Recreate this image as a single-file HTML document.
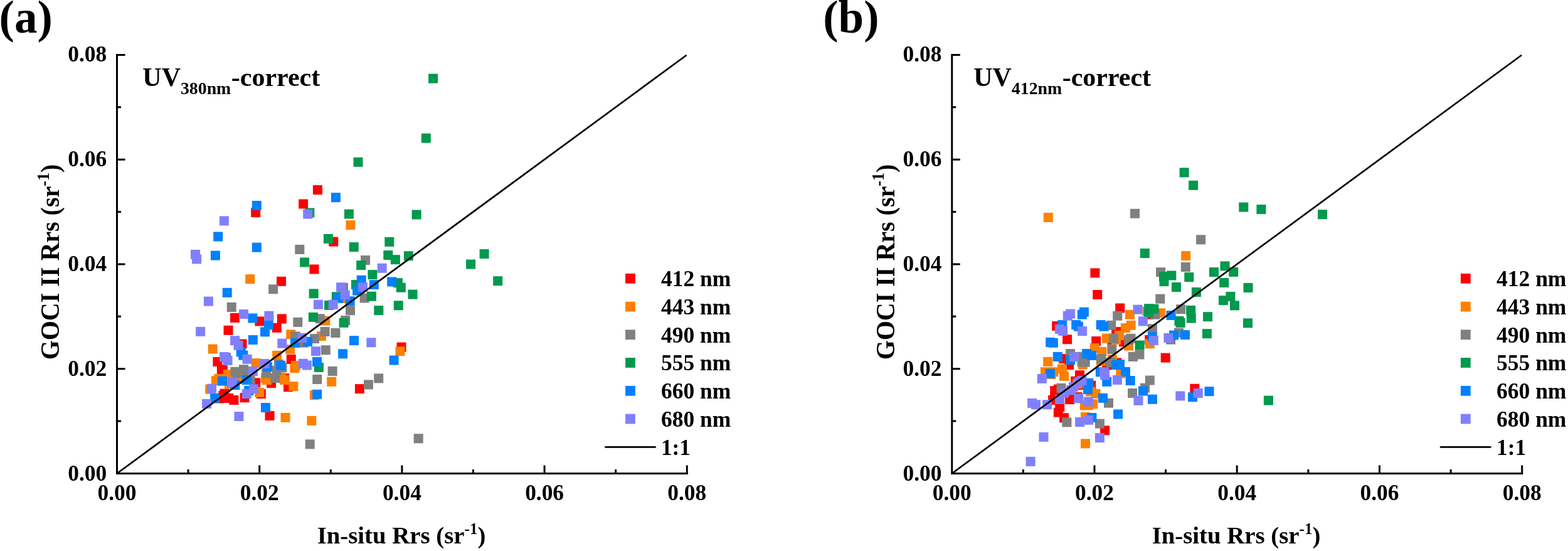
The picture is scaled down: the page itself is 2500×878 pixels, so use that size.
<!DOCTYPE html>
<html lang="en">
<head>
<meta charset="utf-8">
<title>GOCI II Rrs vs In-situ Rrs</title>
<style>
html,body{margin:0;padding:0;background:#fff;}
body{width:2500px;height:878px;overflow:hidden;}
svg{display:block;}
text{font-family:"Liberation Serif", "DejaVu Serif", serif;font-weight:bold;fill:#000;}
.t{font-size:35.4px;}
.ax{stroke:#000;stroke-width:3;fill:none;stroke-linecap:square;}
.tk{stroke:#000;stroke-width:3;fill:none;stroke-linecap:butt;}
.ln{stroke:#000;stroke-width:2.7;fill:none;stroke-linecap:round;}
</style>
</head>
<body>
<svg width="2500" height="878" viewBox="0 0 2500 878">
<rect x="0" y="0" width="2500" height="878" fill="#ffffff"/>

<g>
<g fill="#ff0000">
<rect x="400.2" y="331.2" width="15" height="15"/>
<rect x="476.1" y="317.5" width="15" height="15"/>
<rect x="498.9" y="295.1" width="15" height="15"/>
<rect x="524.2" y="377.6" width="15" height="15"/>
<rect x="493.5" y="421.5" width="15" height="15"/>
<rect x="441" y="440.8" width="15" height="15"/>
<rect x="367" y="498.9" width="15" height="15"/>
<rect x="406.4" y="504.5" width="15" height="15"/>
<rect x="441.8" y="500.5" width="15" height="15"/>
<rect x="433.8" y="514.8" width="15" height="15"/>
<rect x="356.5" y="518.8" width="15" height="15"/>
<rect x="378.5" y="540.5" width="15" height="15"/>
<rect x="339.4" y="569" width="15" height="15"/>
<rect x="345.9" y="581.2" width="15" height="15"/>
<rect x="348" y="582.6" width="15" height="15"/>
<rect x="456.8" y="564.9" width="15" height="15"/>
<rect x="400.2" y="602.4" width="15" height="15"/>
<rect x="365.4" y="630" width="15" height="15"/>
<rect x="357.3" y="627" width="15" height="15"/>
<rect x="350.4" y="619.6" width="15" height="15"/>
<rect x="348.3" y="623" width="15" height="15"/>
<rect x="342.5" y="627.5" width="15" height="15"/>
<rect x="382.6" y="626.2" width="15" height="15"/>
<rect x="425.1" y="603.1" width="15" height="15"/>
<rect x="408.8" y="620.1" width="15" height="15"/>
<rect x="446.3" y="595.2" width="15" height="15"/>
<rect x="452" y="609.3" width="15" height="15"/>
<rect x="422.5" y="655" width="15" height="15"/>
<rect x="632.5" y="545.6" width="15" height="15"/>
<rect x="565.9" y="612.1" width="15" height="15"/>
</g>
<g fill="#ff8000">
<rect x="551.4" y="351.1" width="15" height="15"/>
<rect x="391.2" y="437.2" width="15" height="15"/>
<rect x="456.3" y="525.4" width="15" height="15"/>
<rect x="541.4" y="467.9" width="15" height="15"/>
<rect x="511.3" y="503.7" width="15" height="15"/>
<rect x="504.9" y="528.1" width="15" height="15"/>
<rect x="331.7" y="548.6" width="15" height="15"/>
<rect x="355.7" y="589.1" width="15" height="15"/>
<rect x="341.1" y="596" width="15" height="15"/>
<rect x="336.8" y="599.2" width="15" height="15"/>
<rect x="400.6" y="571.1" width="15" height="15"/>
<rect x="455.2" y="549.2" width="15" height="15"/>
<rect x="434.1" y="558.9" width="15" height="15"/>
<rect x="464" y="575" width="15" height="15"/>
<rect x="462.3" y="579" width="15" height="15"/>
<rect x="357.9" y="604.8" width="15" height="15"/>
<rect x="327.2" y="612.6" width="15" height="15"/>
<rect x="371.9" y="596.9" width="15" height="15"/>
<rect x="406.2" y="617.9" width="15" height="15"/>
<rect x="418.1" y="598.1" width="15" height="15"/>
<rect x="415.9" y="595.1" width="15" height="15"/>
<rect x="440.3" y="593.8" width="15" height="15"/>
<rect x="445.9" y="598" width="15" height="15"/>
<rect x="460.4" y="608.1" width="15" height="15"/>
<rect x="493.9" y="622" width="15" height="15"/>
<rect x="447.5" y="657.9" width="15" height="15"/>
<rect x="489.4" y="662.9" width="15" height="15"/>
<rect x="630.5" y="552.2" width="15" height="15"/>
<rect x="521.2" y="600.8" width="15" height="15"/>
</g>
<g fill="#808080">
<rect x="470.3" y="390" width="15" height="15"/>
<rect x="575.1" y="407.1" width="15" height="15"/>
<rect x="428.1" y="453.3" width="15" height="15"/>
<rect x="361.7" y="482" width="15" height="15"/>
<rect x="467.3" y="505.9" width="15" height="15"/>
<rect x="463.5" y="528.4" width="15" height="15"/>
<rect x="540" y="451" width="15" height="15"/>
<rect x="573.6" y="467.5" width="15" height="15"/>
<rect x="551" y="487.2" width="15" height="15"/>
<rect x="502.8" y="500.3" width="15" height="15"/>
<rect x="543.2" y="503" width="15" height="15"/>
<rect x="510.6" y="521" width="15" height="15"/>
<rect x="527.4" y="523" width="15" height="15"/>
<rect x="494" y="532.1" width="15" height="15"/>
<rect x="353" y="562.1" width="15" height="15"/>
<rect x="381" y="581.2" width="15" height="15"/>
<rect x="367.4" y="584.8" width="15" height="15"/>
<rect x="370.1" y="586.9" width="15" height="15"/>
<rect x="381.2" y="583.9" width="15" height="15"/>
<rect x="476.9" y="538.7" width="15" height="15"/>
<rect x="511.8" y="550.3" width="15" height="15"/>
<rect x="436.8" y="572.9" width="15" height="15"/>
<rect x="442.5" y="578.3" width="15" height="15"/>
<rect x="417.2" y="587.4" width="15" height="15"/>
<rect x="498.2" y="597" width="15" height="15"/>
<rect x="433.6" y="583.1" width="15" height="15"/>
<rect x="391.7" y="596.9" width="15" height="15"/>
<rect x="431.4" y="595.1" width="15" height="15"/>
<rect x="522.6" y="583.9" width="15" height="15"/>
<rect x="596.2" y="595.4" width="15" height="15"/>
<rect x="579.9" y="605.4" width="15" height="15"/>
<rect x="486.7" y="700.4" width="15" height="15"/>
<rect x="659.7" y="691.3" width="15" height="15"/>
</g>
<g fill="#00994d">
<rect x="683.1" y="117.6" width="15" height="15"/>
<rect x="671.8" y="212.7" width="15" height="15"/>
<rect x="563.5" y="250.8" width="15" height="15"/>
<rect x="486.3" y="331.5" width="15" height="15"/>
<rect x="548.9" y="333.6" width="15" height="15"/>
<rect x="656.6" y="334.5" width="15" height="15"/>
<rect x="515.9" y="373" width="15" height="15"/>
<rect x="556.7" y="386.1" width="15" height="15"/>
<rect x="613.3" y="377.9" width="15" height="15"/>
<rect x="611.3" y="399.1" width="15" height="15"/>
<rect x="622.9" y="406.2" width="15" height="15"/>
<rect x="643.8" y="400.3" width="15" height="15"/>
<rect x="568.2" y="415.2" width="15" height="15"/>
<rect x="478.1" y="410.5" width="15" height="15"/>
<rect x="764.6" y="397.1" width="15" height="15"/>
<rect x="743.1" y="413.6" width="15" height="15"/>
<rect x="492.7" y="460.4" width="15" height="15"/>
<rect x="491.9" y="497.9" width="15" height="15"/>
<rect x="586.4" y="430.1" width="15" height="15"/>
<rect x="559.9" y="446.1" width="15" height="15"/>
<rect x="626.9" y="443.2" width="15" height="15"/>
<rect x="631.8" y="450.7" width="15" height="15"/>
<rect x="650.5" y="461.6" width="15" height="15"/>
<rect x="528.8" y="465.4" width="15" height="15"/>
<rect x="517" y="478.9" width="15" height="15"/>
<rect x="584.9" y="464.7" width="15" height="15"/>
<rect x="596.3" y="487.1" width="15" height="15"/>
<rect x="627.8" y="479.3" width="15" height="15"/>
<rect x="540.6" y="506.9" width="15" height="15"/>
<rect x="786.2" y="440.2" width="15" height="15"/>
<rect x="500.8" y="577.9" width="15" height="15"/>
</g>
<g fill="#0080ff">
<rect x="527.9" y="307.2" width="15" height="15"/>
<rect x="401.8" y="320" width="15" height="15"/>
<rect x="340.2" y="369.5" width="15" height="15"/>
<rect x="401.8" y="386.7" width="15" height="15"/>
<rect x="335.9" y="399.6" width="15" height="15"/>
<rect x="354.7" y="458.8" width="15" height="15"/>
<rect x="395.4" y="499.5" width="15" height="15"/>
<rect x="420.7" y="510.4" width="15" height="15"/>
<rect x="415" y="521.4" width="15" height="15"/>
<rect x="395.8" y="534.1" width="15" height="15"/>
<rect x="568.7" y="438.8" width="15" height="15"/>
<rect x="588.8" y="446.1" width="15" height="15"/>
<rect x="562.1" y="455.7" width="15" height="15"/>
<rect x="617.2" y="441.5" width="15" height="15"/>
<rect x="532.1" y="467.8" width="15" height="15"/>
<rect x="550.6" y="472.2" width="15" height="15"/>
<rect x="557" y="535.2" width="15" height="15"/>
<rect x="376.7" y="553.4" width="15" height="15"/>
<rect x="380.3" y="558.6" width="15" height="15"/>
<rect x="347" y="599.6" width="15" height="15"/>
<rect x="385.8" y="598.1" width="15" height="15"/>
<rect x="463" y="539.1" width="15" height="15"/>
<rect x="483.1" y="536.9" width="15" height="15"/>
<rect x="498" y="569" width="15" height="15"/>
<rect x="440.2" y="574.9" width="15" height="15"/>
<rect x="419.1" y="577.1" width="15" height="15"/>
<rect x="367.3" y="606.2" width="15" height="15"/>
<rect x="335.1" y="626.8" width="15" height="15"/>
<rect x="389.2" y="615" width="15" height="15"/>
<rect x="415.9" y="642" width="15" height="15"/>
<rect x="498.1" y="620.8" width="15" height="15"/>
<rect x="620.6" y="566.5" width="15" height="15"/>
<rect x="539.1" y="556.3" width="15" height="15"/>
</g>
<g fill="#8080ff">
<rect x="349.9" y="344.4" width="15" height="15"/>
<rect x="304" y="398" width="15" height="15"/>
<rect x="306.1" y="405.4" width="15" height="15"/>
<rect x="483.2" y="333.6" width="15" height="15"/>
<rect x="324.9" y="472.6" width="15" height="15"/>
<rect x="381" y="493.1" width="15" height="15"/>
<rect x="421.4" y="495.7" width="15" height="15"/>
<rect x="312.1" y="520.9" width="15" height="15"/>
<rect x="474.3" y="530.9" width="15" height="15"/>
<rect x="367.1" y="535.2" width="15" height="15"/>
<rect x="601.7" y="419.8" width="15" height="15"/>
<rect x="570.9" y="450.1" width="15" height="15"/>
<rect x="536.1" y="450.2" width="15" height="15"/>
<rect x="542.7" y="462.4" width="15" height="15"/>
<rect x="499.9" y="477.7" width="15" height="15"/>
<rect x="523.7" y="477.8" width="15" height="15"/>
<rect x="372.5" y="542.8" width="15" height="15"/>
<rect x="386.6" y="564.8" width="15" height="15"/>
<rect x="350" y="561.1" width="15" height="15"/>
<rect x="355.5" y="566.9" width="15" height="15"/>
<rect x="395.8" y="584.1" width="15" height="15"/>
<rect x="442.3" y="539.7" width="15" height="15"/>
<rect x="496" y="552.2" width="15" height="15"/>
<rect x="475.8" y="571.8" width="15" height="15"/>
<rect x="482" y="574.5" width="15" height="15"/>
<rect x="414.3" y="572" width="15" height="15"/>
<rect x="362.8" y="601.9" width="15" height="15"/>
<rect x="330.1" y="611.7" width="15" height="15"/>
<rect x="322" y="635.9" width="15" height="15"/>
<rect x="385.8" y="620.1" width="15" height="15"/>
<rect x="396.8" y="612.2" width="15" height="15"/>
<rect x="373.4" y="656" width="15" height="15"/>
<rect x="584.4" y="538.3" width="15" height="15"/>
</g>
<line class="ln" x1="186.5" y1="754.5" x2="1093.7" y2="88.5"/>
<path class="ax" d="M186.5 87.4V754.5H1095.3"/>
<path class="tk" d="M300.1 754.5v-6.5M186.5 671.1h6.5M413.7 754.5v-13M186.5 587.7h13M527.3 754.5v-6.5M186.5 504.3h6.5M640.9 754.5v-13M186.5 420.9h13M754.5 754.5v-6.5M186.5 337.6h6.5M868.1 754.5v-13M186.5 254.2h13M981.7 754.5v-6.5M186.5 170.8h6.5M1095.3 754.5v-13M186.5 87.4h13"/>
<text class="t" x="186.5" y="797.3" text-anchor="middle">0.00</text>
<text class="t" x="170.2" y="765.5" text-anchor="end">0.00</text>
<text class="t" x="413.7" y="797.3" text-anchor="middle">0.02</text>
<text class="t" x="170.2" y="598.7" text-anchor="end">0.02</text>
<text class="t" x="640.9" y="797.3" text-anchor="middle">0.04</text>
<text class="t" x="170.2" y="431.9" text-anchor="end">0.04</text>
<text class="t" x="868.1" y="797.3" text-anchor="middle">0.06</text>
<text class="t" x="170.2" y="265.2" text-anchor="end">0.06</text>
<text class="t" x="1095.3" y="797.3" text-anchor="middle">0.08</text>
<text class="t" x="170.2" y="98.4" text-anchor="end">0.08</text>
<text x="640" y="865.8" text-anchor="middle" font-size="38.8">In-situ Rrs (sr<tspan font-size="25" dy="-15">-1</tspan><tspan dy="15">)</tspan></text>
<text transform="translate(94.3 417.5) rotate(-90) scale(0.952 1)" text-anchor="middle" font-size="42">GOCI II Rrs (sr<tspan font-size="27.5" dy="-16.5">-1</tspan><tspan dy="16.5">)</tspan></text>
<text x="-1.4" y="51.6" font-size="73">(a)</text>
<text x="227.3" y="137" font-size="42">UV<tspan font-size="27.8" dx="0" dy="12.9">380nm</tspan><tspan dx="0.5" dy="-12.9">-correct</tspan></text>
<rect x="997.1" y="435.9" width="15.8" height="15.8" fill="#ff0000"/>
<text class="t" style="font-size:35.5px" x="1053.9" y="456.2">412 nm</text>
<rect x="997.1" y="480.7" width="15.8" height="15.8" fill="#ff8000"/>
<text class="t" style="font-size:35.5px" x="1053.9" y="500.9">443 nm</text>
<rect x="997.1" y="525.4" width="15.8" height="15.8" fill="#808080"/>
<text class="t" style="font-size:35.5px" x="1053.9" y="545.7">490 nm</text>
<rect x="997.1" y="570.1" width="15.8" height="15.8" fill="#00994d"/>
<text class="t" style="font-size:35.5px" x="1053.9" y="590.4">555 nm</text>
<rect x="997.1" y="614.9" width="15.8" height="15.8" fill="#0080ff"/>
<text class="t" style="font-size:35.5px" x="1053.9" y="635.2">660 nm</text>
<rect x="997.1" y="659.6" width="15.8" height="15.8" fill="#8080ff"/>
<text class="t" style="font-size:35.5px" x="1053.9" y="679.9">680 nm</text>
<line class="ln" x1="965.5" y1="712.3" x2="1044.7" y2="712.3"/>
<text class="t" x="1053.9" y="724.7">1:1</text>
</g>
<g>
<g fill="#ff0000">
<rect x="1738.4" y="427.5" width="15" height="15"/>
<rect x="1742.2" y="462" width="15" height="15"/>
<rect x="1677.3" y="512" width="15" height="15"/>
<rect x="1694.1" y="533.3" width="15" height="15"/>
<rect x="1778.2" y="483.5" width="15" height="15"/>
<rect x="1824.4" y="493.7" width="15" height="15"/>
<rect x="1825.2" y="534" width="15" height="15"/>
<rect x="1772.1" y="521.1" width="15" height="15"/>
<rect x="1784" y="537.3" width="15" height="15"/>
<rect x="1765.4" y="533.9" width="15" height="15"/>
<rect x="1740.2" y="536.1" width="15" height="15"/>
<rect x="1688.1" y="564.1" width="15" height="15"/>
<rect x="1697.2" y="574.1" width="15" height="15"/>
<rect x="1714" y="590.2" width="15" height="15"/>
<rect x="1707.2" y="599.8" width="15" height="15"/>
<rect x="1674.2" y="615.2" width="15" height="15"/>
<rect x="1679.8" y="612.6" width="15" height="15"/>
<rect x="1671.1" y="630" width="15" height="15"/>
<rect x="1698.1" y="629.2" width="15" height="15"/>
<rect x="1710.3" y="625.1" width="15" height="15"/>
<rect x="1711.7" y="606.1" width="15" height="15"/>
<rect x="1757.1" y="574.5" width="15" height="15"/>
<rect x="1773.4" y="570.5" width="15" height="15"/>
<rect x="1732.3" y="606.7" width="15" height="15"/>
<rect x="1850.7" y="562.6" width="15" height="15"/>
<rect x="1897.3" y="611.7" width="15" height="15"/>
<rect x="1682.2" y="641.1" width="15" height="15"/>
<rect x="1679.8" y="649.6" width="15" height="15"/>
<rect x="1689.1" y="658.3" width="15" height="15"/>
<rect x="1754.1" y="678.3" width="15" height="15"/>
</g>
<g fill="#ff8000">
<rect x="1663.8" y="339" width="15" height="15"/>
<rect x="1883.2" y="400.1" width="15" height="15"/>
<rect x="1794" y="493.8" width="15" height="15"/>
<rect x="1821.5" y="488.6" width="15" height="15"/>
<rect x="1825.8" y="540.3" width="15" height="15"/>
<rect x="1795.7" y="510.8" width="15" height="15"/>
<rect x="1786.9" y="515.1" width="15" height="15"/>
<rect x="1777" y="526.9" width="15" height="15"/>
<rect x="1772.1" y="534" width="15" height="15"/>
<rect x="1757" y="531.6" width="15" height="15"/>
<rect x="1792.1" y="543.5" width="15" height="15"/>
<rect x="1737.8" y="547.1" width="15" height="15"/>
<rect x="1749.3" y="552.9" width="15" height="15"/>
<rect x="1843.2" y="491.3" width="15" height="15"/>
<rect x="1663.2" y="568.9" width="15" height="15"/>
<rect x="1658.9" y="585.2" width="15" height="15"/>
<rect x="1686" y="580.4" width="15" height="15"/>
<rect x="1689" y="591.8" width="15" height="15"/>
<rect x="1668.5" y="588.9" width="15" height="15"/>
<rect x="1672.1" y="585.2" width="15" height="15"/>
<rect x="1718.9" y="573.6" width="15" height="15"/>
<rect x="1731.2" y="616.4" width="15" height="15"/>
<rect x="1710.1" y="604.3" width="15" height="15"/>
<rect x="1766" y="565.1" width="15" height="15"/>
<rect x="1747.7" y="567.8" width="15" height="15"/>
<rect x="1779.2" y="587.4" width="15" height="15"/>
<rect x="1739.5" y="619.8" width="15" height="15"/>
<rect x="1723" y="657" width="15" height="15"/>
<rect x="1721.9" y="638.4" width="15" height="15"/>
<rect x="1723" y="699.4" width="15" height="15"/>
<rect x="1735.2" y="636.2" width="15" height="15"/>
<rect x="1728" y="638.2" width="15" height="15"/>
</g>
<g fill="#808080">
<rect x="1802" y="332.8" width="15" height="15"/>
<rect x="1907.1" y="374.4" width="15" height="15"/>
<rect x="1882.8" y="418.1" width="15" height="15"/>
<rect x="1843.1" y="426.2" width="15" height="15"/>
<rect x="1842.3" y="468.7" width="15" height="15"/>
<rect x="1774.2" y="495.8" width="15" height="15"/>
<rect x="1834.2" y="493.7" width="15" height="15"/>
<rect x="1829.9" y="516.3" width="15" height="15"/>
<rect x="1795.5" y="531.8" width="15" height="15"/>
<rect x="1792.2" y="534" width="15" height="15"/>
<rect x="1768" y="531.8" width="15" height="15"/>
<rect x="1765.3" y="549.1" width="15" height="15"/>
<rect x="1764.3" y="510.8" width="15" height="15"/>
<rect x="1809.4" y="557.5" width="15" height="15"/>
<rect x="1875.1" y="485.2" width="15" height="15"/>
<rect x="1872" y="522.7" width="15" height="15"/>
<rect x="1859.1" y="533.7" width="15" height="15"/>
<rect x="1699.1" y="556.1" width="15" height="15"/>
<rect x="1722.8" y="569.7" width="15" height="15"/>
<rect x="1717.6" y="569.3" width="15" height="15"/>
<rect x="1710.3" y="560.9" width="15" height="15"/>
<rect x="1684.5" y="610.9" width="15" height="15"/>
<rect x="1748.3" y="564.3" width="15" height="15"/>
<rect x="1763.2" y="570" width="15" height="15"/>
<rect x="1798.9" y="560.9" width="15" height="15"/>
<rect x="1825.8" y="598.5" width="15" height="15"/>
<rect x="1818" y="610.7" width="15" height="15"/>
<rect x="1798.1" y="619" width="15" height="15"/>
<rect x="1693.4" y="665.4" width="15" height="15"/>
<rect x="1760" y="634.7" width="15" height="15"/>
<rect x="1745.9" y="667.6" width="15" height="15"/>
</g>
<g fill="#00994d">
<rect x="1880.6" y="267.4" width="15" height="15"/>
<rect x="1895.1" y="287.8" width="15" height="15"/>
<rect x="1975.3" y="322.6" width="15" height="15"/>
<rect x="2003.4" y="326.1" width="15" height="15"/>
<rect x="1817.8" y="396.1" width="15" height="15"/>
<rect x="1860.3" y="431.5" width="15" height="15"/>
<rect x="1847.9" y="433.1" width="15" height="15"/>
<rect x="1848.5" y="441.1" width="15" height="15"/>
<rect x="1888.3" y="434.1" width="15" height="15"/>
<rect x="1868" y="450" width="15" height="15"/>
<rect x="1899.9" y="458" width="15" height="15"/>
<rect x="1945.5" y="416.4" width="15" height="15"/>
<rect x="1928" y="426.1" width="15" height="15"/>
<rect x="1959.2" y="425.9" width="15" height="15"/>
<rect x="1944.2" y="443" width="15" height="15"/>
<rect x="1982.5" y="451" width="15" height="15"/>
<rect x="1954.4" y="465" width="15" height="15"/>
<rect x="1943" y="471.1" width="15" height="15"/>
<rect x="1961" y="479.4" width="15" height="15"/>
<rect x="1982" y="507.3" width="15" height="15"/>
<rect x="2101" y="334.2" width="15" height="15"/>
<rect x="2014.9" y="630.6" width="15" height="15"/>
<rect x="1824.1" y="484.2" width="15" height="15"/>
<rect x="1832.4" y="484.7" width="15" height="15"/>
<rect x="1823.9" y="491" width="15" height="15"/>
<rect x="1809.6" y="542.6" width="15" height="15"/>
<rect x="1891.1" y="486.9" width="15" height="15"/>
<rect x="1891.8" y="499.6" width="15" height="15"/>
<rect x="1872.5" y="503.9" width="15" height="15"/>
<rect x="1874.6" y="506.9" width="15" height="15"/>
<rect x="1918.1" y="497.2" width="15" height="15"/>
<rect x="1916.9" y="524.2" width="15" height="15"/>
</g>
<g fill="#0080ff">
<rect x="1720.9" y="489.7" width="15" height="15"/>
<rect x="1717.8" y="493.7" width="15" height="15"/>
<rect x="1686.2" y="510.1" width="15" height="15"/>
<rect x="1708.2" y="510.1" width="15" height="15"/>
<rect x="1712" y="512.7" width="15" height="15"/>
<rect x="1667.2" y="537.9" width="15" height="15"/>
<rect x="1671.8" y="538.8" width="15" height="15"/>
<rect x="1829.9" y="529.2" width="15" height="15"/>
<rect x="1747.7" y="510.1" width="15" height="15"/>
<rect x="1752.5" y="512.7" width="15" height="15"/>
<rect x="1725.1" y="556" width="15" height="15"/>
<rect x="1733.2" y="558.9" width="15" height="15"/>
<rect x="1859.6" y="495" width="15" height="15"/>
<rect x="1864.1" y="526.6" width="15" height="15"/>
<rect x="1882.1" y="526.1" width="15" height="15"/>
<rect x="1678.8" y="560.9" width="15" height="15"/>
<rect x="1699.1" y="566" width="15" height="15"/>
<rect x="1666.9" y="587.7" width="15" height="15"/>
<rect x="1728.3" y="602.9" width="15" height="15"/>
<rect x="1727" y="613.1" width="15" height="15"/>
<rect x="1778" y="573.1" width="15" height="15"/>
<rect x="1772.1" y="574.1" width="15" height="15"/>
<rect x="1786.9" y="584.9" width="15" height="15"/>
<rect x="1794.7" y="599" width="15" height="15"/>
<rect x="1746.9" y="585.3" width="15" height="15"/>
<rect x="1757.2" y="600.8" width="15" height="15"/>
<rect x="1815" y="615.5" width="15" height="15"/>
<rect x="1829.9" y="628.7" width="15" height="15"/>
<rect x="1751" y="626.8" width="15" height="15"/>
<rect x="1894" y="625.2" width="15" height="15"/>
<rect x="1920.5" y="616.2" width="15" height="15"/>
<rect x="1733.4" y="658" width="15" height="15"/>
<rect x="1775.1" y="652.5" width="15" height="15"/>
</g>
<g fill="#8080ff">
<rect x="1699.1" y="492.6" width="15" height="15"/>
<rect x="1694.8" y="495.8" width="15" height="15"/>
<rect x="1681.9" y="517" width="15" height="15"/>
<rect x="1687.1" y="519.9" width="15" height="15"/>
<rect x="1718.1" y="520.2" width="15" height="15"/>
<rect x="1806.5" y="485.7" width="15" height="15"/>
<rect x="1814.8" y="504.4" width="15" height="15"/>
<rect x="1831.8" y="535" width="15" height="15"/>
<rect x="1855.5" y="530.9" width="15" height="15"/>
<rect x="1705.1" y="561.2" width="15" height="15"/>
<rect x="1653.8" y="595.9" width="15" height="15"/>
<rect x="1717.5" y="599" width="15" height="15"/>
<rect x="1712.7" y="601.4" width="15" height="15"/>
<rect x="1704.1" y="609.1" width="15" height="15"/>
<rect x="1700.3" y="614.1" width="15" height="15"/>
<rect x="1689.1" y="618.6" width="15" height="15"/>
<rect x="1682.1" y="628.9" width="15" height="15"/>
<rect x="1712.2" y="627.3" width="15" height="15"/>
<rect x="1727.8" y="632.5" width="15" height="15"/>
<rect x="1662.1" y="637.3" width="15" height="15"/>
<rect x="1638.1" y="634.9" width="15" height="15"/>
<rect x="1643.9" y="637.3" width="15" height="15"/>
<rect x="1753.1" y="585.3" width="15" height="15"/>
<rect x="1754.1" y="590.3" width="15" height="15"/>
<rect x="1773.9" y="598" width="15" height="15"/>
<rect x="1807.5" y="630.8" width="15" height="15"/>
<rect x="1902.8" y="619" width="15" height="15"/>
<rect x="1874.3" y="623.4" width="15" height="15"/>
<rect x="1714.1" y="665" width="15" height="15"/>
<rect x="1728.1" y="661.8" width="15" height="15"/>
<rect x="1656.5" y="688.9" width="15" height="15"/>
<rect x="1745.9" y="690.1" width="15" height="15"/>
<rect x="1635.6" y="727.9" width="15" height="15"/>
</g>
<line class="ln" x1="1517.8" y1="754.5" x2="2425.1" y2="88.5"/>
<path class="ax" d="M1517.8 87.4V754.5H2426.7"/>
<path class="tk" d="M1631.4 754.5v-6.5M1517.8 671.1h6.5M1745 754.5v-13M1517.8 587.7h13M1858.6 754.5v-6.5M1517.8 504.3h6.5M1972.2 754.5v-13M1517.8 420.9h13M2085.9 754.5v-6.5M1517.8 337.6h6.5M2199.5 754.5v-13M1517.8 254.2h13M2313.1 754.5v-6.5M1517.8 170.8h6.5M2426.7 754.5v-13M1517.8 87.4h13"/>
<text class="t" x="1517.8" y="797.3" text-anchor="middle">0.00</text>
<text class="t" x="1501.5" y="765.5" text-anchor="end">0.00</text>
<text class="t" x="1745" y="797.3" text-anchor="middle">0.02</text>
<text class="t" x="1501.5" y="598.7" text-anchor="end">0.02</text>
<text class="t" x="1972.2" y="797.3" text-anchor="middle">0.04</text>
<text class="t" x="1501.5" y="431.9" text-anchor="end">0.04</text>
<text class="t" x="2199.5" y="797.3" text-anchor="middle">0.06</text>
<text class="t" x="1501.5" y="265.2" text-anchor="end">0.06</text>
<text class="t" x="2426.7" y="797.3" text-anchor="middle">0.08</text>
<text class="t" x="1501.5" y="98.4" text-anchor="end">0.08</text>
<text x="1971" y="865.8" text-anchor="middle" font-size="38.8">In-situ Rrs (sr<tspan font-size="25" dy="-15">-1</tspan><tspan dy="15">)</tspan></text>
<text transform="translate(1425.6 417.5) rotate(-90) scale(0.952 1)" text-anchor="middle" font-size="42">GOCI II Rrs (sr<tspan font-size="27.5" dy="-16.5">-1</tspan><tspan dy="16.5">)</tspan></text>
<text x="1312.3" y="51.6" font-size="73">(b)</text>
<text x="1552.2" y="137" font-size="42">UV<tspan font-size="27.8" dx="0" dy="12.9">412nm</tspan><tspan dx="0.5" dy="-12.9">-correct</tspan></text>
<rect x="2328.9" y="435.9" width="15.8" height="15.8" fill="#ff0000"/>
<text class="t" style="font-size:35.5px" x="2386" y="456.2">412 nm</text>
<rect x="2328.9" y="480.7" width="15.8" height="15.8" fill="#ff8000"/>
<text class="t" style="font-size:35.5px" x="2386" y="500.9">443 nm</text>
<rect x="2328.9" y="525.4" width="15.8" height="15.8" fill="#808080"/>
<text class="t" style="font-size:35.5px" x="2386" y="545.7">490 nm</text>
<rect x="2328.9" y="570.1" width="15.8" height="15.8" fill="#00994d"/>
<text class="t" style="font-size:35.5px" x="2386" y="590.4">555 nm</text>
<rect x="2328.9" y="614.9" width="15.8" height="15.8" fill="#0080ff"/>
<text class="t" style="font-size:35.5px" x="2386" y="635.2">660 nm</text>
<rect x="2328.9" y="659.6" width="15.8" height="15.8" fill="#8080ff"/>
<text class="t" style="font-size:35.5px" x="2386" y="679.9">680 nm</text>
<line class="ln" x1="2297.1" y1="712.3" x2="2376.3" y2="712.3"/>
<text class="t" x="2386" y="724.7">1:1</text>
</g>
</svg>
</body>
</html>
